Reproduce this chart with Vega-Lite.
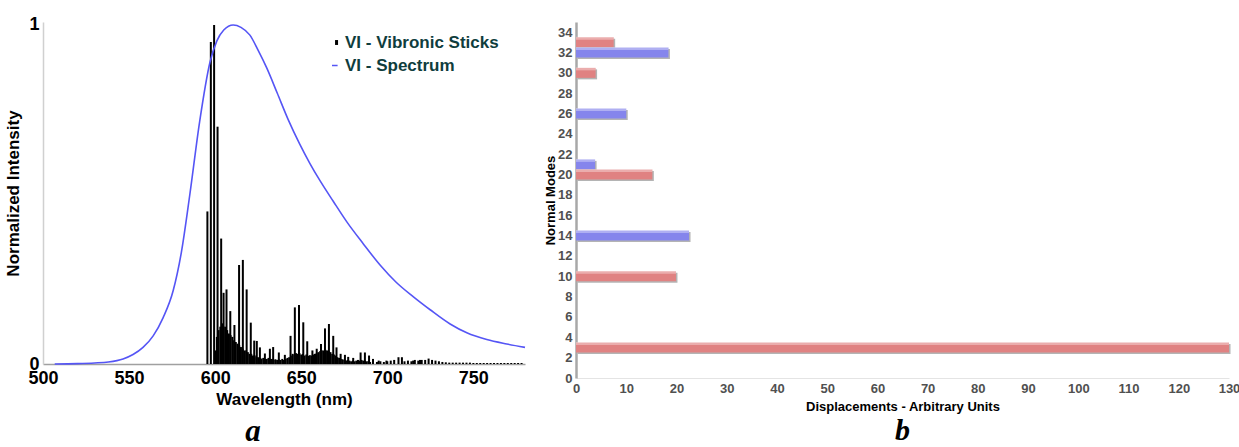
{
  "$schema": "https://vega.github.io/schema/vega-lite/v6.json",
  "background": "white",
  "padding": {"left": 4, "top": 15, "right": 0, "bottom": 0},
  "bounds": "flush",
  "config": {"view": {"stroke": null}, "font": "Liberation Sans", "axis": {"grid": false, "ticks": false}},
  "spacing": 51,
  "resolve": {"scale": {"color": "independent"}, "legend": {"color": "independent"}},
  "datasets": {
    "sticks": [
      {"wavelength": 595.5, "intensity": 0.45}, {"wavelength": 597.5, "intensity": 0.95}, {"wavelength": 599.4, "intensity": 1.0},
      {"wavelength": 601.4, "intensity": 0.70}, {"wavelength": 603.5, "intensity": 0.37}, {"wavelength": 604.9, "intensity": 0.21},
      {"wavelength": 606.6, "intensity": 0.22}, {"wavelength": 608.8, "intensity": 0.156}, {"wavelength": 611.2, "intensity": 0.115},
      {"wavelength": 613.9, "intensity": 0.292}, {"wavelength": 616.1, "intensity": 0.307}, {"wavelength": 618.3, "intensity": 0.22},
      {"wavelength": 620.7, "intensity": 0.122}, {"wavelength": 622.7, "intensity": 0.069}, {"wavelength": 624.2, "intensity": 0.068},
      {"wavelength": 626.0, "intensity": 0.049}, {"wavelength": 628.9, "intensity": 0.031}, {"wavelength": 631.8, "intensity": 0.045},
      {"wavelength": 633.7, "intensity": 0.05}, {"wavelength": 637.0, "intensity": 0.034}, {"wavelength": 640.5, "intensity": 0.027},
      {"wavelength": 643.8, "intensity": 0.083}, {"wavelength": 646.3, "intensity": 0.167}, {"wavelength": 648.7, "intensity": 0.174},
      {"wavelength": 651.2, "intensity": 0.123}, {"wavelength": 653.5, "intensity": 0.067}, {"wavelength": 656.5, "intensity": 0.04},
      {"wavelength": 659.0, "intensity": 0.045}, {"wavelength": 661.5, "intensity": 0.059}, {"wavelength": 663.8, "intensity": 0.105},
      {"wavelength": 666.1, "intensity": 0.118}, {"wavelength": 668.6, "intensity": 0.083}, {"wavelength": 670.5, "intensity": 0.049},
      {"wavelength": 672.9, "intensity": 0.03}, {"wavelength": 675.4, "intensity": 0.027}, {"wavelength": 677.3, "intensity": 0.021},
      {"wavelength": 680.2, "intensity": 0.018}, {"wavelength": 684.5, "intensity": 0.034}, {"wavelength": 687.0, "intensity": 0.034},
      {"wavelength": 689.4, "intensity": 0.025}, {"wavelength": 691.7, "intensity": 0.015}, {"wavelength": 695.0, "intensity": 0.01},
      {"wavelength": 699.5, "intensity": 0.01}, {"wavelength": 706.5, "intensity": 0.02}, {"wavelength": 708.5, "intensity": 0.02},
      {"wavelength": 715.0, "intensity": 0.01}, {"wavelength": 719.0, "intensity": 0.012}, {"wavelength": 722.0, "intensity": 0.012},
      {"wavelength": 600, "intensity": 0.04}, {"wavelength": 601, "intensity": 0.08}, {"wavelength": 602, "intensity": 0.10},
      {"wavelength": 603, "intensity": 0.11}, {"wavelength": 604, "intensity": 0.12}, {"wavelength": 605, "intensity": 0.11},
      {"wavelength": 606, "intensity": 0.11}, {"wavelength": 607, "intensity": 0.10}, {"wavelength": 608, "intensity": 0.09},
      {"wavelength": 609, "intensity": 0.085}, {"wavelength": 610, "intensity": 0.08}, {"wavelength": 611, "intensity": 0.07},
      {"wavelength": 612, "intensity": 0.065}, {"wavelength": 613, "intensity": 0.06}, {"wavelength": 614, "intensity": 0.055},
      {"wavelength": 615, "intensity": 0.05}, {"wavelength": 616, "intensity": 0.045}, {"wavelength": 617, "intensity": 0.04},
      {"wavelength": 618, "intensity": 0.04}, {"wavelength": 619, "intensity": 0.035}, {"wavelength": 620, "intensity": 0.03},
      {"wavelength": 621, "intensity": 0.03}, {"wavelength": 622, "intensity": 0.025}, {"wavelength": 623, "intensity": 0.025},
      {"wavelength": 624, "intensity": 0.02}, {"wavelength": 625, "intensity": 0.02}, {"wavelength": 626, "intensity": 0.018},
      {"wavelength": 627, "intensity": 0.016}, {"wavelength": 628, "intensity": 0.018}, {"wavelength": 629, "intensity": 0.015},
      {"wavelength": 630, "intensity": 0.015}, {"wavelength": 631, "intensity": 0.018}, {"wavelength": 632, "intensity": 0.015},
      {"wavelength": 633, "intensity": 0.015}, {"wavelength": 634, "intensity": 0.012}, {"wavelength": 635, "intensity": 0.014},
      {"wavelength": 636, "intensity": 0.012}, {"wavelength": 637, "intensity": 0.014}, {"wavelength": 638, "intensity": 0.012},
      {"wavelength": 639, "intensity": 0.015}, {"wavelength": 640, "intensity": 0.012}, {"wavelength": 641, "intensity": 0.015},
      {"wavelength": 642, "intensity": 0.018}, {"wavelength": 643, "intensity": 0.02}, {"wavelength": 644, "intensity": 0.025},
      {"wavelength": 645, "intensity": 0.03}, {"wavelength": 646, "intensity": 0.028}, {"wavelength": 647, "intensity": 0.032},
      {"wavelength": 648, "intensity": 0.03}, {"wavelength": 649, "intensity": 0.032}, {"wavelength": 650, "intensity": 0.028},
      {"wavelength": 651, "intensity": 0.03}, {"wavelength": 652, "intensity": 0.025}, {"wavelength": 653, "intensity": 0.028},
      {"wavelength": 654, "intensity": 0.024}, {"wavelength": 655, "intensity": 0.026}, {"wavelength": 656, "intensity": 0.025},
      {"wavelength": 657, "intensity": 0.028}, {"wavelength": 658, "intensity": 0.03}, {"wavelength": 659, "intensity": 0.032},
      {"wavelength": 660, "intensity": 0.035}, {"wavelength": 661, "intensity": 0.038}, {"wavelength": 662, "intensity": 0.04},
      {"wavelength": 663, "intensity": 0.04}, {"wavelength": 664, "intensity": 0.042}, {"wavelength": 665, "intensity": 0.04},
      {"wavelength": 666, "intensity": 0.038}, {"wavelength": 667, "intensity": 0.035}, {"wavelength": 668, "intensity": 0.03},
      {"wavelength": 669, "intensity": 0.028}, {"wavelength": 670, "intensity": 0.025}, {"wavelength": 671, "intensity": 0.02},
      {"wavelength": 672, "intensity": 0.018}, {"wavelength": 673, "intensity": 0.015}, {"wavelength": 674, "intensity": 0.014},
      {"wavelength": 675, "intensity": 0.012}, {"wavelength": 676, "intensity": 0.01}, {"wavelength": 677, "intensity": 0.012},
      {"wavelength": 678, "intensity": 0.01}, {"wavelength": 679, "intensity": 0.008}, {"wavelength": 680, "intensity": 0.01},
      {"wavelength": 681, "intensity": 0.008}, {"wavelength": 682, "intensity": 0.01}, {"wavelength": 683, "intensity": 0.012},
      {"wavelength": 684, "intensity": 0.01}, {"wavelength": 685, "intensity": 0.012}, {"wavelength": 686, "intensity": 0.01},
      {"wavelength": 687, "intensity": 0.01}, {"wavelength": 688, "intensity": 0.008}, {"wavelength": 689, "intensity": 0.008},
      {"wavelength": 690, "intensity": 0.006}, {"wavelength": 694, "intensity": 0.006}, {"wavelength": 696, "intensity": 0.008},
      {"wavelength": 698, "intensity": 0.006}, {"wavelength": 700, "intensity": 0.008}, {"wavelength": 702, "intensity": 0.01},
      {"wavelength": 704, "intensity": 0.012}, {"wavelength": 710, "intensity": 0.008}, {"wavelength": 712, "intensity": 0.01},
      {"wavelength": 714, "intensity": 0.008}, {"wavelength": 716, "intensity": 0.012}, {"wavelength": 718, "intensity": 0.01},
      {"wavelength": 720, "intensity": 0.012}, {"wavelength": 724, "intensity": 0.016}, {"wavelength": 726, "intensity": 0.012},
      {"wavelength": 728, "intensity": 0.01}, {"wavelength": 730, "intensity": 0.008}, {"wavelength": 732, "intensity": 0.006},
      {"wavelength": 734, "intensity": 0.005}, {"wavelength": 736, "intensity": 0.004}, {"wavelength": 738, "intensity": 0.004},
      {"wavelength": 740, "intensity": 0.004}, {"wavelength": 742, "intensity": 0.004}, {"wavelength": 744, "intensity": 0.004},
      {"wavelength": 746, "intensity": 0.004}, {"wavelength": 748, "intensity": 0.004}, {"wavelength": 750, "intensity": 0.003},
      {"wavelength": 752, "intensity": 0.003}, {"wavelength": 754, "intensity": 0.003}, {"wavelength": 756, "intensity": 0.003},
      {"wavelength": 758, "intensity": 0.003}, {"wavelength": 760, "intensity": 0.003}, {"wavelength": 762, "intensity": 0.003},
      {"wavelength": 764, "intensity": 0.003}, {"wavelength": 766, "intensity": 0.003}, {"wavelength": 768, "intensity": 0.003},
      {"wavelength": 770, "intensity": 0.003}, {"wavelength": 772, "intensity": 0.003}, {"wavelength": 774, "intensity": 0.003},
      {"wavelength": 776, "intensity": 0.003}, {"wavelength": 778, "intensity": 0.003}
    ],
    "spectrum": [
      {"wavelength": 506.8, "intensity": 0.0}, {"wavelength": 520, "intensity": 0.001}, {"wavelength": 530, "intensity": 0.003},
      {"wavelength": 538, "intensity": 0.006}, {"wavelength": 546.5, "intensity": 0.015}, {"wavelength": 552.3, "intensity": 0.028},
      {"wavelength": 558.1, "intensity": 0.049}, {"wavelength": 564, "intensity": 0.083}, {"wavelength": 569.8, "intensity": 0.137},
      {"wavelength": 575.6, "intensity": 0.216}, {"wavelength": 580.4, "intensity": 0.33}, {"wavelength": 585.3, "intensity": 0.5},
      {"wavelength": 591, "intensity": 0.715}, {"wavelength": 597, "intensity": 0.89}, {"wavelength": 601, "intensity": 0.953},
      {"wavelength": 605, "intensity": 0.985}, {"wavelength": 610.5, "intensity": 1.0}, {"wavelength": 615, "intensity": 0.993},
      {"wavelength": 620.2, "intensity": 0.97}, {"wavelength": 625, "intensity": 0.925}, {"wavelength": 629.9, "intensity": 0.874},
      {"wavelength": 636, "intensity": 0.80}, {"wavelength": 642.5, "intensity": 0.72}, {"wavelength": 649, "intensity": 0.65},
      {"wavelength": 655, "intensity": 0.592}, {"wavelength": 661, "intensity": 0.54}, {"wavelength": 668.6, "intensity": 0.48},
      {"wavelength": 676.4, "intensity": 0.42}, {"wavelength": 686, "intensity": 0.355}, {"wavelength": 695.8, "intensity": 0.292},
      {"wavelength": 705, "intensity": 0.242}, {"wavelength": 715.2, "intensity": 0.198}, {"wavelength": 724.9, "intensity": 0.16},
      {"wavelength": 736.5, "intensity": 0.118}, {"wavelength": 746.2, "intensity": 0.092}, {"wavelength": 757.8, "intensity": 0.072},
      {"wavelength": 769.4, "intensity": 0.059}, {"wavelength": 780, "intensity": 0.049}
    ],
    "modes": [
      {"mode": 33, "displacement": 7.5, "set": "Set 1"},
      {"mode": 32, "displacement": 18.4, "set": "Set 2"},
      {"mode": 30, "displacement": 3.9, "set": "Set 1"},
      {"mode": 26, "displacement": 10.0, "set": "Set 2"},
      {"mode": 21, "displacement": 3.8, "set": "Set 2"},
      {"mode": 20, "displacement": 15.2, "set": "Set 1"},
      {"mode": 14, "displacement": 22.5, "set": "Set 2"},
      {"mode": 10, "displacement": 19.9, "set": "Set 1"},
      {"mode": 3, "displacement": 130, "set": "Set 1"}
    ]
  },
  "hconcat": [
    {
      "width": 482,
      "height": 342,
      "title": {"text": "a", "orient": "bottom", "font": "Liberation Serif", "fontStyle": "italic", "fontWeight": "bold", "fontSize": 31, "dx": -31, "offset": 10, "color": "black"},
      "layer": [
        {
          "data": {"name": "sticks"},
          "mark": {"type": "rule", "strokeWidth": 2},
          "encoding": {
            "x": {"field": "wavelength", "type": "quantitative", "scale": {"domain": [500, 780], "nice": false, "zero": false},
              "axis": {"title": "Wavelength (nm)", "values": [500, 550, 600, 650, 700, 750], "labelFontSize": 18, "labelFontWeight": "bold", "labelColor": "black", "labelPadding": 5, "labelFlush": false, "domainColor": "#a0a0a0", "domainWidth": 1.5, "titleFontSize": 17, "titleFontWeight": "bold", "titleColor": "black", "titlePadding": 4}},
            "y": {"field": "intensity", "type": "quantitative", "scale": {"domain": [0, 1.0088], "nice": false},
              "axis": {"title": "Normalized Intensity", "values": [0, 1], "format": "d", "labelFontSize": 18, "labelFontWeight": "bold", "labelColor": "black", "labelPadding": 4, "domainColor": "#d0d0d0", "domainWidth": 1.5, "titleFontSize": 17, "titleFontWeight": "bold", "titleColor": "black", "titlePadding": 6,
                "encode": {"labels": {"update": {"dy": {"signal": "datum.value === 0 ? -5 : 0"}}}}}},
            "y2": {"datum": 0},
            "color": {"datum": "VI - Vibronic Sticks", "type": "nominal",
              "scale": {"domain": ["VI - Vibronic Sticks", "VI - Spectrum"], "range": ["#000000", "#5555f5"]},
              "legend": {"orient": "none", "legendX": 284, "legendY": 12, "title": null, "labelFontSize": 17, "labelFontWeight": "bold", "labelColor": "#0f3d3d", "labelOffset": 1, "symbolSize": 49, "rowPadding": 5,
                "encode": {"symbols": {"update": {
                  "shape": {"signal": "datum.value === 'VI - Spectrum' ? 'M-1,0L0.6,0' : 'M0.3,-0.7L0.3,0.7'"},
                  "strokeWidth": {"signal": "datum.value === 'VI - Spectrum' ? 1.5 : 3"},
                  "stroke": {"signal": "datum.value === 'VI - Spectrum' ? '#5555f5' : '#000000'"},
                  "fill": {"value": "transparent"}}}}}}
          }
        },
        {
          "data": {"name": "spectrum"},
          "mark": {"type": "line", "strokeWidth": 1.6, "interpolate": "monotone"},
          "encoding": {
            "x": {"field": "wavelength", "type": "quantitative"},
            "y": {"field": "intensity", "type": "quantitative"},
            "color": {"datum": "VI - Spectrum", "type": "nominal"}
          }
        }
      ]
    },
    {
      "width": 653,
      "height": 356,
      "title": {"text": "b", "orient": "bottom", "font": "Liberation Serif", "fontStyle": "italic", "fontWeight": "bold", "fontSize": 30, "dx": 0, "offset": 3, "color": "black"},
      "data": {"name": "modes"},
      "encoding": {
        "y": {"field": "mode", "type": "quantitative", "scale": {"domain": [0, 35], "nice": false, "padding": 0},
          "axis": {"title": "Normal Modes", "values": [0, 2, 4, 6, 8, 10, 12, 14, 16, 18, 20, 22, 24, 26, 28, 30, 32, 34], "labelFontSize": 13, "labelFontWeight": "bold", "labelColor": "#505050", "labelPadding": 4, "domainColor": "#a8a8a8", "domainWidth": 2.5, "titleFontSize": 13, "titleFontWeight": "bold", "titleColor": "black", "titlePadding": 0}},
        "x": {"field": "displacement", "type": "quantitative", "scale": {"domain": [0, 130], "nice": false},
          "axis": {"title": "Displacements - Arbitrary Units", "values": [0, 10, 20, 30, 40, 50, 60, 70, 80, 90, 100, 110, 120, 130], "labelFont": "Liberation Sans Narrow, Liberation Sans", "labelFontSize": 13, "labelFontWeight": "bold", "labelColor": "#505050", "labelPadding": 4, "labelFlush": false, "domainColor": "#e4e4e4", "domainWidth": 1, "titleFont": "Liberation Sans Narrow, Liberation Sans", "titleFontSize": 13, "titleFontWeight": "bold", "titleColor": "black", "titlePadding": 5}}
      },
      "layer": [
        {"mark": {"type": "bar", "orient": "horizontal", "height": 10, "color": "#b4b4b4", "xOffset": 1.5, "yOffset": 1.5}},
        {"mark": {"type": "bar", "orient": "horizontal", "height": 10},
          "encoding": {"color": {"field": "set", "type": "nominal", "scale": {"domain": ["Set 1", "Set 2"], "range": ["#e08282", "#8585ec"]}, "legend": null}}},
        {"mark": {"type": "bar", "orient": "horizontal", "height": 3, "yOffset": -4, "color": "white", "opacity": 0.35}}
      ]
    }
  ]
}
